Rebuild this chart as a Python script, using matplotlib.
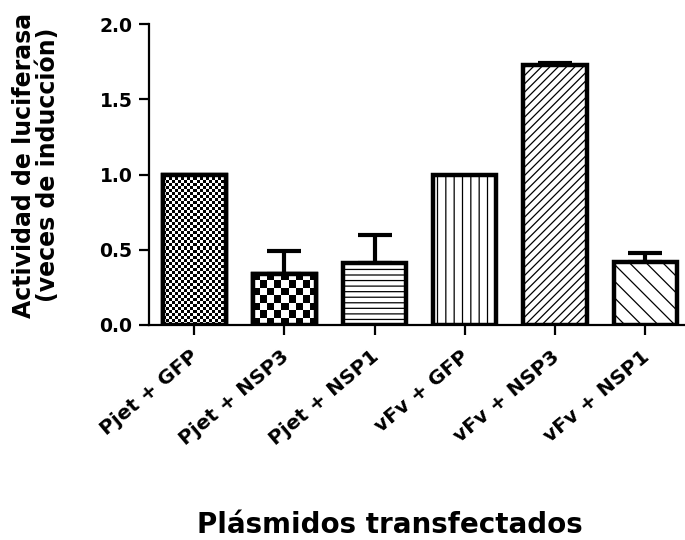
import numpy as np
import matplotlib
matplotlib.use("Agg")
import matplotlib.pyplot as plt
from matplotlib.transforms import ScaledTranslation

# Data
categories = ["Pjet + GFP", "Pjet + NSP3", "Pjet + NSP1",
              "vFv + GFP", "vFv + NSP3", "vFv + NSP1"]
values = [1.00, 0.34, 0.41, 1.00, 1.73, 0.42]
errors = [0.00, 0.15, 0.19, 0.00, 0.01, 0.06]
yticks = [0.0, 0.5, 1.0, 1.5, 2.0]
ytick_labels = ["0.0", "0.5", "1.0", "1.5", "2.0"]

# Fill styles: hatches, or a checkerboard cell size in pixels
hatches = ["", "", "---", "||", "////", "\\\\"]
checker_cells = {0: 3, 1: 7}

plt.rcParams["font.family"] = ["DejaVu Sans"]
plt.rcParams["font.weight"] = "bold"
plt.rcParams["hatch.linewidth"] = 0.9

W, H = 685, 540
fig = plt.figure(figsize=(W / 100, H / 100), dpi=100)
ax = fig.add_axes([149 / W, 1 - 325 / H, 1 - 149 / W, (325 - 24) / H])

x = np.arange(len(categories))
bar_w = 0.70
lw = 3.2

bars = ax.bar(x, values, width=bar_w, color="white", edgecolor="black",
              linewidth=lw, hatch=hatches, zorder=2)

ax.set_xlim(-0.5, 5.44)
ax.set_ylim(0, 2.0)

# Checkerboard fills drawn as images clipped to their bars
fig.canvas.draw()
for i, cell in checker_cells.items():
    x0, x1 = x[i] - bar_w / 2, x[i] + bar_w / 2
    p0 = ax.transData.transform((x0, 0))
    p1 = ax.transData.transform((x1, values[i]))
    nx = max(1, int(round(abs(p1[0] - p0[0]) / cell)))
    ny = max(1, int(round(abs(p1[1] - p0[1]) / cell)))
    board = (np.add.outer(np.arange(ny), np.arange(nx)) % 2).astype(float)
    im = ax.imshow(board, cmap="gray", vmin=0, vmax=1, interpolation="nearest",
                   extent=(x0, x1, 0, values[i]), aspect="auto", zorder=2.5,
                   origin="lower")
    im.set_clip_path(bars[i])

ax.bar(x[list(checker_cells)], [values[i] for i in checker_cells],
       width=bar_w, fill=False, edgecolor="black", linewidth=lw, zorder=3)

# Upper error bars only
vals_arr = np.array(values)
err_arr = np.array(errors)
mask = err_arr > 0
ax.errorbar(x[mask], vals_arr[mask],
            yerr=[np.zeros(mask.sum()), err_arr[mask]],
            fmt="none", ecolor="black", elinewidth=3, capsize=12,
            capthick=3, zorder=1)

ax.set_xlim(-0.5, 5.44)
ax.set_ylim(0, 2.0)

for side in ("top", "right"):
    ax.spines[side].set_visible(False)
for side in ("left", "bottom"):
    ax.spines[side].set_linewidth(1.6)

ax.set_yticks(yticks)
ax.set_yticklabels(ytick_labels, fontsize=13.5, fontweight="bold")
ax.set_xticks(x)
ax.set_xticklabels(categories, fontsize=14.5, fontweight="bold", rotation=40,
                   ha="right", va="center", rotation_mode="anchor")
ax.tick_params(axis="both", direction="out", length=7, width=1.6, pad=5)
ax.tick_params(axis="x", pad=14)

# Shift the rotated category labels slightly to the right
offset = ScaledTranslation(2 / 100, 0, fig.dpi_scale_trans)
for lbl in ax.get_xticklabels():
    lbl.set_transform(lbl.get_transform() + offset)

fig.text(36 / W, 1 - 165 / H,
         "Actividad de luciferasa\n(veces de inducción)",
         rotation=90, ha="center", va="center", fontsize=17,
         fontweight="bold", linespacing=1.05, multialignment="center")
fig.text(390 / W, 1 - 533 / H, "Plásmidos transfectados",
         ha="center", va="baseline", fontsize=20, fontweight="bold")

fig.savefig("out.png", dpi=100)
